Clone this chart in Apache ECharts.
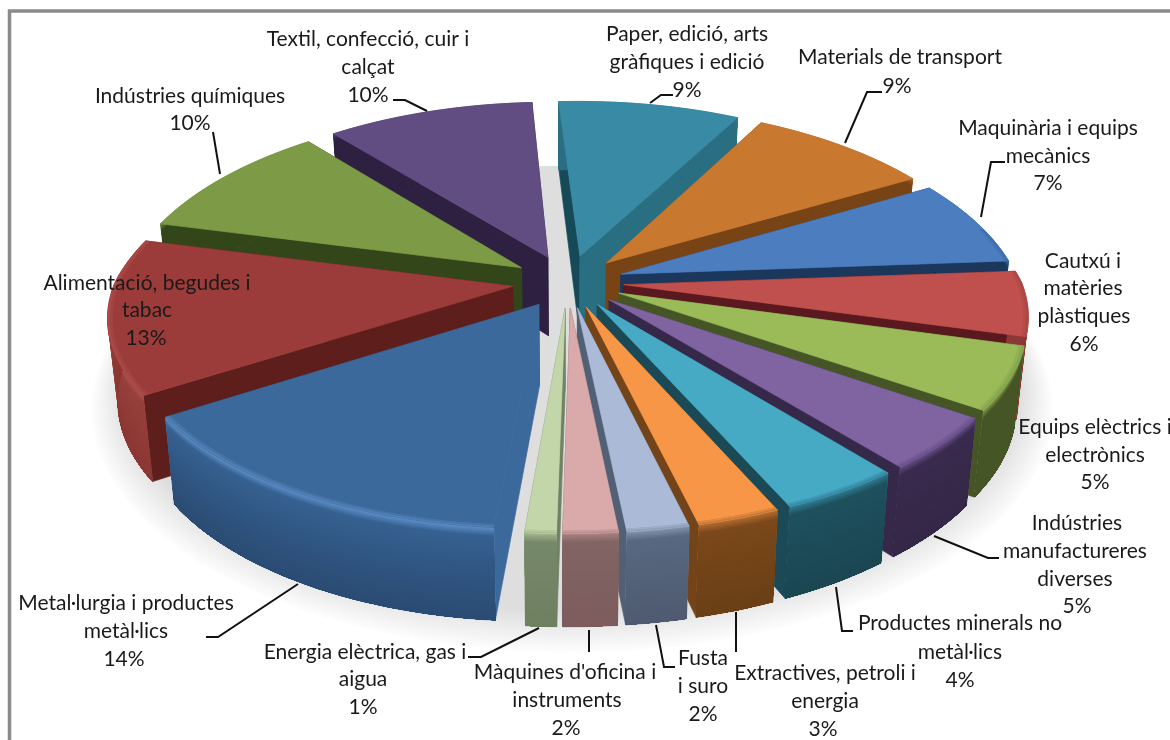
<!DOCTYPE html>
<html><head><meta charset="utf-8">
<style>html,body{margin:0;padding:0;background:#fff}#c{width:1170px;height:740px}</style>
<script src="https://cdn.jsdelivr.net/npm/echarts@6/dist/echarts.min.js"></script>
</head><body><div id="c"></div>
<script>
const categories = ["Paper, edició, arts gràfiques i edició","Materials de transport","Maquinària i equips mecànics","Cautxú i matèries plàstiques","Equips elèctrics i electrònics","Indústries manufactureres diverses","Productes minerals no metàl·lics","Extractives, petroli i energia","Fusta i suro","Màquines d'oficina i instruments","Energia elèctrica, gas i aigua","Metal·lurgia i productes metàl·lics","Alimentació, begudes i tabac","Indústries químiques","Textil, confecció, cuir i calçat"];
const values = [8.94,8.8,7.08,5.5,5.36,4.55,4.17,2.83,2.11,1.86,1.06,14.49,13.08,9.97,10.17];
// ---------- styles, one per slice
const topColors   = ["#388aa5","#c97830","#4c7dbe","#bf504d","#9bbb59","#8064a2","#46aac5","#f79646","#aabad7","#d9aaa9","#c3d6aa","#3c699b","#9b3c3a","#7d9b46","#624d82"];
const sideColors  = ["#2a6e82","#784416","#1b375c","#5a191e","#465526","#362848","#1b4955","#734419","#526076","#7d5f5f","#718264","#2b4c73","#5e1f1c","#32461a","#2d2041"];
const startColors = ["#174a58","#784416","#1b375c","#5a191e","#465526","#362848","#1b4955","#734419","#526076","#7d5f5f","#718264","#3c699b","#5e1f1c","#32461a","#2d2041"];
const rimColors   = ["#2e7a92","#a0602a","#3a66a0","#a04442","#7d9a48","#5f4a80","#30798f","#b06a30","#8090a8","#a88080","#a0b48a","#5a8cc4","#b0524e","#6c8a3e","#4a3a66"];
const wallTop     = ["#2a6e82","#784416","#1b375c","#8c3836","#465526","#3a2b4e","#1e505e","#7a481a","#586880","#826464","#76886a","#35608f","#96403c","#32461a","#2d2041"];
const wallBottom  = ["#2a6e82","#784416","#1b375c","#8c3836","#465526","#342746","#1b4652","#6a3f16","#4e5a70","#7c5c5c","#6e8060","#2a4a72","#8a3632","#32461a","#2d2041"];
// ---------- text labels and their leader lines
const labelLines = [
 [["Paper, edició, arts",687,34],["gràfiques i edició",687,62],["9%",687,90]],
 [["Materials de transport",900,57],["9%",897,86]],
 [["Maquinària i equips",1048,128],["mecànics",1048,156],["7%",1048,183]],
 [["Cautxú i",1083,261],["matèries",1083,288],["plàstiques",1084,316],["6%",1084,344]],
 [["Equips elèctrics i",1095,427],["electrònics",1095,455],["5%",1095,482]],
 [["Indústries",1077,523],["manufactureres",1075,551],["diverses",1075,579],["5%",1077,606]],
 [["Productes minerals no",960,623],["metàl·lics",960,652],["4%",960,680]],
 [["Extractives, petroli i",825,673],["energia",825,701],["3%",823,729]],
 [["Fusta",703,658],["i suro",703,686],["2%",703,714]],
 [["Màquines d'oficina i",565,672],["instruments",567,700],["2%",566,728]],
 [["Energia elèctrica, gas i",365,652],["aigua",363,679],["1%",363,707]],
 [["Metal·lurgia i productes",126,603],["metàl·lics",126,631],["14%",124,659]],
 [["Alimentació, begudes i",147,283],["tabac",147,310],["13%",146,338]],
 [["Indústries químiques",190,96],["10%",190,123]],
 [["Textil, confecció, cuir i",368,39],["calçat",368,67],["10%",368,95]]
];
const leaderLines = [
 [[650,103],[661,95],[673,95]],
 [[845,143],[867,92],[882,92]],
 [[981,217],[991,162],[1005,162]],
 [],
 [],
 [[934,536],[988,558],[999,558]],
 [[836,587],[842,631],[853,631]],
 [[736,612],[736,652]],
 [[656,625],[664,667],[675,667]],
 [[589,630],[589,652]],
 [[539,628],[481,657],[468,657]],
 [[298,584],[218,637],[206,637]],
 [],
 [[213,132],[220,174]],
 [[393,100],[405,100],[427,111]]
];
// ---------- 3D projection of the pie
const firstAngle=-3.4, cx=568, cy=282, R=398, Ry=183, RyBack=195, persp=0.15, perspBack=0.2, depth=80, explode=0.14, baseInset=0.022;
const total=values.reduce((a,b)=>a+b,0);
const slices=[]; let acc=firstAngle;
values.forEach((v,i)=>{const a=acc*Math.PI/180, b=(acc+v/total*360)*Math.PI/180; acc+=v/total*360; slices.push({i,a,b,m:(a+b)/2});});
const order=slices.slice().sort((p,q)=>(-Math.cos(p.m))-(-Math.cos(q.m))).map(s=>s.i);

function proj(s,r,t,f){
  const X=explode*Math.sin(s.m)+r*Math.sin(t), Y=-explode*Math.cos(s.m)-r*Math.cos(t);
  const k=1/(1-(Y<0?perspBack:persp)*Y);
  return [cx+R*X*k*(1-baseInset*f), cy+(Y<0?RyBack:Ry)*Y*k+f*depth*(1+0.8*(k-1))];
}
function arcBetween(s,a,b,r,f){const n=Math.max(4,Math.ceil((b-a)/0.03)),o=[];for(let j=0;j<=n;j++)o.push(proj(s,r,a+(b-a)*j/n,f));return o;}
function arc(s,r,f){return arcBetween(s,s.a,s.b,r,f);}
function hex(c){return [1,3,5].map(j=>parseInt(c.substr(j,2),16));}
function mix(c,d,t){const a=hex(c),b=hex(d);return 'rgb('+a.map((v,j)=>Math.round(v+(b[j]-v)*t)).join(',')+')';}
function poly(points,fill,edge){return {type:'polygon',silent:true,shape:{points},style:edge?{fill,stroke:fill,lineWidth:0.7}:{fill}};}

function renderSlice(params,api){
  const id=api.value(0), s=slices[id], ch=[];
  // radial walls, the one that faces the viewer last
  const startWall=poly([proj(s,0,s.a,0),proj(s,1,s.a,0),proj(s,1,s.a,1),proj(s,0,s.a,1)],startColors[id],true);
  const endWall=poly([proj(s,0,s.b,0),proj(s,1,s.b,0),proj(s,1,s.b,1),proj(s,0,s.b,1)],sideColors[id],true);
  if(Math.sin(s.m)<0) ch.push(endWall,startWall); else ch.push(startWall,endWall);
  // outer wall: each layer reaches the base, so no seams show between the shades
  const steps=[0,0.015,0.03,0.045,0.06,0.075,0.09], base=arc(s,1,1).reverse();
  for(let f=0.13;f<1;f+=0.04) steps.push(f);
  steps.forEach((f,j)=>{
    const col=f<0.09?mix(rimColors[id],wallTop[id],f/0.09):mix(wallTop[id],wallBottom[id],(f-0.09)/0.91);
    ch.push(poly(arc(s,1,f).concat(base),col,j===0));
  });
  // top face; only the rim that faces the viewer gets a soft bevel
  ch.push(poly([proj(s,0,s.a,0)].concat(arc(s,1,0)),topColors[id],true));
  const fa=Math.max(s.a,0.42*Math.PI), fb=Math.min(s.b,1.58*Math.PI);
  if(fa<fb){
    [[1,0.988,0.35],[0.994,0.988,0.7]].forEach(q=>{
      ch.push(poly(arcBetween(s,fa,fb,q[0],0).concat(arcBetween(s,fa,fb,q[1],0).reverse()),mix(rimColors[id],topColors[id],q[2])));
    });
  }
  return {type:'group',children:ch};
}
function renderFloor(params,api){
  const ch=[], n=16;
  for(let l=0;l<n;l++){
    const u=l/(n-1), rx=480-32*u, ry=243-20*u, ey=166+ry;
    const pts=[];for(let j=0;j<140;j++){const t=j/140*2*Math.PI;pts.push([572+rx*Math.cos(t),ey+ry*Math.sin(t)]);}
    ch.push({type:'polygon',silent:true,shape:{points:pts},style:{fill:mix('#fcfcfc','#dedede',u)}});
  }
  return {type:'group',children:ch};
}
function renderFrame(params,api){
  return {type:'rect',silent:true,shape:{x:9.5,y:11,width:1200,height:800},style:{fill:'#fff',stroke:'#8a8a8a',lineWidth:3.5}};
}
function renderLabel(params,api){
  const id=api.value(0), ch=[];
  if(leaderLines[id].length) ch.push({type:'polyline',silent:true,shape:{points:leaderLines[id]},style:{fill:null,stroke:'#111',lineWidth:2}});
  labelLines[id].forEach(l=>ch.push({type:'text',silent:true,style:{text:l[0],x:l[1],y:l[2],align:'center',verticalAlign:'middle',fill:'#1a1a1a',font:'21px Lato'}}));
  return {type:'group',children:ch};
}
const chart=echarts.init(document.getElementById('c'),null,{renderer:'canvas'});
chart.setOption({
  animation:false,
  backgroundColor:'#fff',
  series:[
    {type:'custom',name:'frame',coordinateSystem:'none',clip:false,z:1,data:[[0]],renderItem:renderFrame},
    {type:'custom',name:'floor',coordinateSystem:'none',clip:false,z:2,data:[[0]],renderItem:renderFloor},
    {type:'custom',name:'Indústria',coordinateSystem:'none',clip:false,z:3,data:order.map(i=>[i,values[i],categories[i]]),renderItem:renderSlice},
    {type:'custom',name:'labels',coordinateSystem:'none',clip:false,z:4,data:categories.map((c,i)=>[i]),renderItem:renderLabel}
  ]
});
</script></body></html>
